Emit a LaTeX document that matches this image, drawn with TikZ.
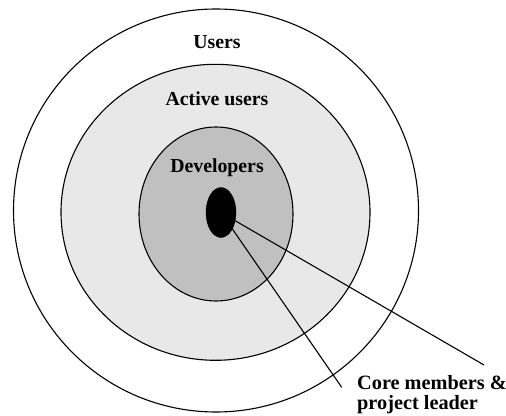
\documentclass[tikz,border=0pt]{standalone}
\usepackage{fontspec}
\setmainfont{Liberation Serif}
\usetikzlibrary{shapes.geometric}
\begin{document}
\begin{tikzpicture}[x=1pt,y=-1pt,
  ring/.style={draw=black, line width=1.1pt, ellipse, inner sep=0pt},
  lbl/.style={font=\fontsize{19.8}{20}\selectfont\bfseries, anchor=base, inner sep=0pt},
  conn/.style={draw=black, line width=1.1pt}]
\useasboundingbox (0,0) rectangle (506,415);
\node[ring, minimum width=405pt, minimum height=403pt] (users) at (216,210.5) {};
\node[ring, fill={rgb,255:red,232;green,232;blue,232}, minimum width=309pt, minimum height=296pt] (active) at (215.5,212.3) {};
\node[ring, fill={rgb,255:red,192;green,192;blue,192}, minimum width=154pt, minimum height=174pt] (devs) at (216,214) {};
\node[ellipse, fill=black, draw=black, inner sep=0pt, minimum width=30pt, minimum height=50pt] (core) at (221,212.5) {};
\node[lbl] (tusers) at (217,48.3) {Users};
\node[lbl] (tactive) at (217,105.3) {Active users};
\node[lbl] (tdevs) at (217,172) {Developers};
\node[font=\fontsize{20.3}{20}\selectfont\bfseries, align=left, anchor=base west, inner sep=0pt] (tcore) at (357,409.5) {Core members \&\\project leader};
\coordinate (e1) at (484,365);
\coordinate (e2) at (341.7,387.3);
\draw[conn] (core) -- (e1);
\draw[conn] (core) -- (e2);
\end{tikzpicture}
\end{document}
